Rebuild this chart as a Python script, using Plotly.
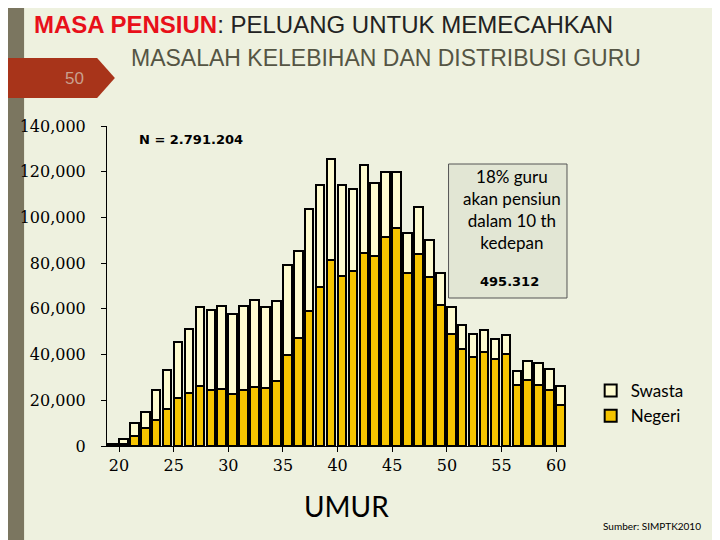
import plotly.graph_objects as go

umur = list(range(19, 61))
total = [700, 2900, 10200, 15000, 24400, 33400, 45300, 51000, 60600, 59600,
         61300, 57800, 61300, 63900, 60600, 63500, 79300, 85100, 103500, 114000,
         125700, 114000, 112600, 123100, 114900, 120000, 119700, 93400, 104400, 90100,
         75900, 60600, 53100, 49200, 50800, 47000, 48500, 32600, 37200, 36100,
         33900, 26400]
negeri = [400, 1000, 4400, 8000, 11500, 16350, 21200, 23200, 26300, 24700,
          25100, 22800, 24700, 26000, 25400, 28600, 39900, 47400, 59100, 69600,
          81500, 74200, 76600, 84400, 83200, 91500, 95300, 75500, 84200, 74000,
          61800, 49200, 42600, 39100, 41200, 38200, 40100, 26700, 28900, 26700,
          24400, 18000]
swasta = [t - n for t, n in zip(total, negeri)]
tick_umur = [20, 25, 30, 35, 40, 45, 50, 55, 60]
y_ticks = [0, 20000, 40000, 60000, 80000, 100000, 120000, 140000]
y_text = ['0', '20,000', '40,000', '60,000', '80,000', '100,000', '120,000', '140,000']

# pixel (as seen in the screenshot) -> paper coords
def px(x):
    return (x - 100) / 465.0

def py(y):
    return (445 - y) / 320.0

def note(text, x, y, size, family='Lato', color='black', xanchor='center'):
    return dict(text=text, x=px(x), y=py(y), xref='paper', yref='paper',
                xanchor=xanchor, yanchor='middle', showarrow=False,
                font=dict(family=family, size=size, color=color))

fig = go.Figure()
fig.add_trace(go.Bar(x=umur, y=negeri, name='Negeri',
                     marker=dict(color='#f5c400', line=dict(color='black', width=2))))
fig.add_trace(go.Bar(x=umur, y=swasta, name='Swasta',
                     marker=dict(color='#fdfbd0', line=dict(color='black', width=2))))

shapes = [
    dict(type='rect', xref='paper', yref='paper', x0=px(-20), x1=px(16), y0=py(560), y1=py(-20),
         fillcolor='#7b7660', line=dict(width=0), layer='below'),
    dict(type='path', xref='paper', yref='paper',
         path='M %f %f L %f %f L %f %f L %f %f L %f %f Z' % (
             px(-20), py(57), px(90), py(57), px(108), py(77), px(90), py(97), px(-20), py(97)),
         fillcolor='#a8341a', line=dict(width=0)),
    dict(type='rect', xref='paper', yref='paper', x0=px(446), x1=px(566), y0=py(297), y1=py(163),
         fillcolor='#e2e6d4', line=dict(color='#555555', width=1), layer='below'),
]

annotations = [
    note("<span style='color:#e8101a'><b>MASA PENSIUN</b></span>: PELUANG UNTUK MEMECAHKAN",
         24, 24, 24, 'Liberation Sans, Arial', '#222222', 'left'),
    note("MASALAH KELEBIHAN DAN DISTRIBUSI GURU", 383, 57, 23, 'Liberation Sans, Arial', '#555544'),
    note("50", 67, 77, 17, 'Liberation Sans, Arial', '#c9a08e'),
    note("<b>N = 2.791.204</b>", 185, 138, 13, 'DejaVu Sans'),
    note("18% guru<br>akan pensiun<br>dalam 10 th<br>kedepan", 510, 208, 17),
    note("<b>495.312</b>", 508, 280, 13, 'DejaVu Sans'),
    note("UMUR", 343, 505, 28),
    note("Sumber: SIMPTK2010", 652, 525, 10),
]

fig.update_layout(
    barmode='stack', bargap=0.22,
    width=720, height=540,
    margin=dict(l=93, r=162, t=118, b=102),
    paper_bgcolor='#eef1df', plot_bgcolor='rgba(0,0,0,0)',
    showlegend=True,
    legend=dict(x=px(590), y=py(372), xanchor='left', yanchor='top', traceorder='reversed',
                font=dict(family='Lato', size=17, color='black'), bgcolor='rgba(0,0,0,0)',
                tracegroupgap=8, itemwidth=30),
    shapes=shapes, annotations=annotations,
    xaxis=dict(range=[18.5, 60.5], tickvals=[t - 0.4 for t in tick_umur],
               ticktext=[str(t) for t in tick_umur], showgrid=False, zeroline=False,
               showline=True, linecolor='black', ticks='outside', ticklen=5,
               tickcolor='black', tickfont=dict(family='DejaVu Serif, serif', size=16, color='black')),
    yaxis=dict(range=[0, 140000], tickvals=y_ticks, ticktext=y_text, showgrid=False,
               zeroline=False, showline=True, linecolor='black', ticks='outside',
               ticklen=5, tickcolor='black', ticklabelstandoff=12,
               tickfont=dict(family='DejaVu Serif, serif', size=16, color='black')),
)

fig.write_html("out.html")
